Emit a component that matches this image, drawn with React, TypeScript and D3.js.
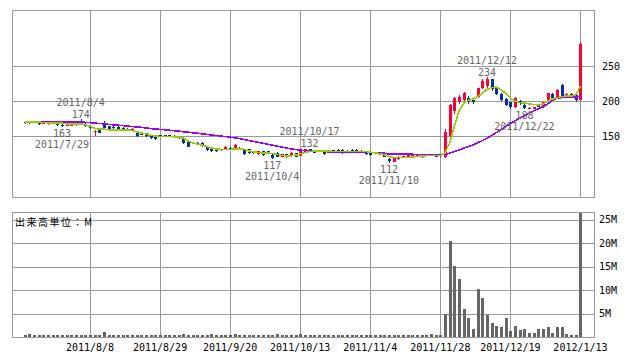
import { useEffect, useRef } from 'react';
import * as d3 from 'd3';

// 日足（2011/7/19 〜 2012/1/13、営業日インデックス）
const opens = [
  170, 168, 170, 170, 168, 167, 168, 169, 166, 164,
  165, 166, 172, 167, 163, 157, 160, 168, 164, 163,
  163, 162, 160, 158, 156, 155, 154, 150, 150, 151,
  151.5, 151, 150.5, 149, 145.5, 142, 140, 140, 139.8, 135,
  132.6, 131, 131, 130.3, 133.5, 132.6, 133, 131, 131, 128,
  124, 128, 128, 123, 126.5, 120.7, 124, 123, 125.5, 121.7,
  126.4, 131, 129.3, 129.5, 128, 127, 129.5, 130, 130, 126.5,
  130, 130, 126.5, 128, 125.5, 125.5, 124, 126.4, 117, 113.6,
  117, 119.8, 119.8, 120.7, 120.7, 123, 121.7, 124, 124, 123,
  120, 150, 186, 198, 202, 205, 201, 206, 219, 221,
  231, 219, 210, 203, 198, 192, 200, 194, 188.5, 188.5,
  194, 191, 202, 210, 204, 223, 205, 210, 209, 201,
];
const highs = [
  171, 171, 171, 171, 169, 171, 171, 170, 167, 168,
  169, 170, 174, 168, 164, 159, 161, 171, 165, 164,
  164, 163, 161, 161, 157, 156, 155, 151, 151, 152,
  152, 152, 151, 150, 146, 143, 141, 141, 141, 136,
  134, 132, 132, 136, 134, 139, 134, 132, 132, 129,
  129, 129, 129, 124, 127, 125, 125, 127, 126.5, 129,
  131.5, 132, 130, 130, 129, 128, 130, 131, 131, 130,
  131, 131, 130, 129, 126, 126, 126, 127, 119, 119,
  121, 122, 123.5, 124, 124.5, 124, 124.5, 125, 125, 124,
  160, 196, 206, 209, 213, 207, 203, 219, 231, 234,
  232, 221, 211, 204, 199, 206, 201, 196, 191, 192,
  195, 199, 212, 212, 217, 224, 212, 211, 210, 284,
];
const lows = [
  167, 167, 168, 166, 167, 166, 167, 165, 163, 164,
  165, 165, 169, 163, 160, 150, 154, 160, 159, 160,
  159, 159, 158, 157, 149, 151, 149, 146, 145, 148,
  148, 148, 147, 146, 139, 134, 138, 137, 135, 129,
  127, 127, 128, 130, 130, 132, 131, 123, 124, 125,
  123, 122, 124, 117, 120, 120, 119, 122, 120, 121,
  126, 127, 126, 128, 123, 125.5, 128.5, 126, 125, 126,
  127.5, 126, 126, 123.5, 122, 124, 123.5, 120, 112, 113,
  116.5, 119, 119, 120, 120, 119, 121, 121, 120, 120.5,
  119, 147, 182, 196, 200, 196, 196, 204, 217, 219,
  215, 208, 200, 193, 189, 190, 195, 188, 188.5, 188.5,
  191, 190, 201, 202, 203, 205, 204, 205, 199, 200,
];
const closes = [
  168, 170, 169, 167, 168, 170, 170, 166, 165, 167,
  168, 169, 170, 164, 162, 157, 155, 161, 160, 161,
  160, 160, 159, 160, 150, 152, 150, 147, 146, 149,
  149.5, 149, 148.5, 147, 140, 135, 139.5, 137.5, 136, 130.3,
  128, 128, 129.5, 135, 131, 137.4, 132, 124.5, 125.5, 125.5,
  128, 123, 125.5, 118.4, 120.7, 124.5, 120.7, 126.5, 120.7, 128,
  131, 128, 126.4, 129, 124, 126.5, 129, 126.5, 125.5, 129.3,
  128, 126.5, 129.3, 124, 123, 125, 125, 120.7, 114, 118.3,
  120.7, 121.7, 123, 123, 124, 120, 124, 121.7, 120.7, 121,
  156, 194, 204, 206, 211, 198, 198, 218, 229, 231,
  217, 210, 202, 195, 191, 204, 197, 190, 190, 191,
  192, 198, 211, 204, 216, 206, 210, 207, 201, 282,
];
// 出来高（単位：M）
const volumes = [
  0.35, 0.6, 0.35, 0.35, 0.35, 0.35, 0.35, 0.35, 0.35, 0.35,
  0.35, 0.35, 0.35, 0.35, 0.35, 0.35, 0.35, 1.0, 0.5, 0.35,
  0.35, 0.35, 0.35, 0.35, 0.35, 0.35, 0.35, 0.35, 0.35, 0.35,
  0.35, 0.35, 0.35, 0.35, 0.6, 0.35, 0.35, 0.35, 0.35, 0.35,
  0.6, 0.35, 0.35, 0.35, 0.35, 0.6, 0.35, 0.35, 0.35, 0.35,
  0.35, 0.35, 0.35, 0.35, 0.6, 0.35, 0.35, 0.35, 0.35, 0.6,
  0.35, 0.35, 0.35, 0.35, 0.35, 0.35, 0.35, 0.35, 0.35, 0.35,
  0.35, 0.35, 0.35, 0.35, 0.35, 0.35, 0.35, 0.35, 0.35, 0.35,
  0.35, 0.35, 0.35, 0.35, 0.35, 0.35, 0.35, 0.6, 0.35, 0.35,
  4.9, 20.5, 15.2, 12.4, 6.0, 4.1, 1.7, 10.3, 8.3, 4.7,
  3.0, 2.4, 2.1, 4.1, 1.2, 2.3, 1.5, 1.7, 0.8, 0.8,
  1.7, 1.7, 2.1, 0.8, 2.1, 2.1, 0.6, 0.4, 0.4, 26.3,
];
// 移動平均（短期・長期）
const maShort = [
  169.8, 169.8, 169.8, 169.8, 169.5, 169, 169, 169, 168.5, 167.5,
  167, 167, 167.5, 166, 164, 161, 160, 159.8, 159, 159,
  159, 159, 159, 158, 156, 154.5, 153, 151, 150, 149.5,
  149.5, 149.5, 149, 148.5, 147, 143, 140, 138.5, 137, 135,
  133, 131.5, 131, 131, 131, 131.5, 132, 131, 129, 127.5,
  126.5, 126, 126, 125, 124, 122.5, 121.8, 121.7, 122.5, 124.5,
  126.5, 127.9, 128.5, 129, 129, 128.5, 128, 128, 128, 128,
  128, 128, 128, 128, 127, 126, 125, 123.5, 121, 119.5,
  119.3, 119.3, 119.5, 120, 121, 121.5, 122, 122.5, 122.5, 122,
  126, 140, 164, 186, 197, 201, 203, 206.5, 211, 217,
  219, 220, 216, 211, 204, 200, 198, 197, 196, 195,
  194.5, 196, 200, 203, 204.5, 206.5, 207, 207, 209, 221.5,
];
const maLong = [
  171, 171, 171, 170.8, 170.7, 170.6, 170.5, 170.4, 170.2, 170,
  170, 170, 170, 169.6, 169.2, 168.5, 168, 167.3, 166.7, 166,
  165.5, 165, 164.3, 163.7, 163, 162.5, 161.5, 160.8, 160, 159.5,
  159, 158.3, 157.7, 157, 156.2, 155.5, 154.7, 154, 153.2, 152.3,
  151.5, 150.8, 150, 149.3, 148.5, 147.5, 146.3, 145, 143.8, 142.5,
  141, 139.7, 138.3, 137, 135.7, 134.3, 133, 131.7, 130.7, 130,
  129.3, 128.7, 128.3, 128, 127.8, 127.6, 127.5, 127.5, 127.4, 127.3,
  127.2, 127.1, 127, 126.9, 126.8, 126.6, 126.3, 125.5, 124.5, 124.2,
  124, 124, 124, 124, 123.8, 123.7, 123.6, 123.5, 123.3, 123.2,
  124, 125.5, 127.8, 130.2, 132.6, 135, 137.4, 140.5, 143.5, 147,
  151, 155, 159, 163.5, 168, 172, 175.5, 179, 182.6, 186,
  189, 192, 196, 201, 204, 205, 205.2, 205.3, 205.5, 207,
];

const tickIndex = [14, 29, 44, 59, 74, 89, 104, 119];
const tickLabels = ['2011/8/8', '2011/8/29', '2011/9/20', '2011/10/13', '2011/11/4', '2011/11/28', '2011/12/19', '2012/1/13'];
const priceTicks = [150, 200, 250];
const volumeTicks = [5, 10, 15, 20, 25];

// 高値・安値の注記
const noteIndex = [8, 12, 53, 61, 78, 99, 107];
const noteDates = ['2011/7/29', '2011/8/4', '2011/10/4', '2011/10/17', '2011/11/10', '2011/12/12', '2011/12/22'];
const noteValues = [163, 174, 117, 132, 112, 234, 188];
const noteKinds = ['low', 'high', 'low', 'high', 'low', 'high', 'low'];

const UP = '#ff0033';
const DOWN = '#003399';
const GRID = '#999999';
const FONT = '"DejaVu Sans Mono", monospace';

export default function App() {
  const svgRef = useRef<SVGSVGElement>(null);

  useEffect(() => {
    if (!svgRef.current) return;
    const svg = d3.select(svgRef.current);
    svg.selectAll('*').remove();

    const left = 12;
    const right = 594;
    const main = { top: 10, bottom: 197 };
    const vol = { top: 212, bottom: 337 };

    const x = d3.scaleLinear().domain([-2.7, 121.9]).range([left, right]);
    const y = d3.scaleLinear().domain([63, 330]).range([main.bottom, main.top]);
    const yv = d3.scaleLinear().domain([0, 26.6]).range([vol.bottom, vol.top]);
    const px = (v: number) => Math.round(v) + 0.5;

    const g = svg.append('g').attr('shape-rendering', 'crispEdges');

    // grids and frames
    [main, vol].forEach(p => {
      tickIndex.forEach(t => {
        g.append('line')
          .attr('x1', px(x(t))).attr('x2', px(x(t)))
          .attr('y1', p.top).attr('y2', p.bottom)
          .attr('stroke', GRID);
      });
      g.append('rect')
        .attr('x', px(left)).attr('y', px(p.top))
        .attr('width', right - left).attr('height', p.bottom - p.top)
        .attr('fill', 'none').attr('stroke', GRID);
    });
    priceTicks.forEach(v => {
      g.append('line')
        .attr('x1', left).attr('x2', right)
        .attr('y1', px(y(v))).attr('y2', px(y(v)))
        .attr('stroke', GRID);
      svg.append('text')
        .attr('x', 602).attr('y', y(v)).attr('dy', '0.35em')
        .style('font', `10px ${FONT}`)
        .text(v);
    });
    volumeTicks.forEach(v => {
      g.append('line')
        .attr('x1', left).attr('x2', right)
        .attr('y1', px(yv(v))).attr('y2', px(yv(v)))
        .attr('stroke', GRID);
      svg.append('text')
        .attr('x', 599).attr('y', yv(v)).attr('dy', '0.35em')
        .style('font', `10px ${FONT}`)
        .text(`${v}M`);
    });

    // date labels
    tickIndex.forEach((t, k) => {
      svg.append('text')
        .attr('x', x(t)).attr('y', 351)
        .attr('text-anchor', 'middle')
        .style('font', `10px ${FONT}`)
        .text(tickLabels[k]);
    });

    svg.append('text')
      .attr('x', 15).attr('y', 226)
      .style('font', '10px "Noto Sans CJK JP", sans-serif')
      .style('letter-spacing', '1.5px')
      .text('出来高単位：M');

    // notes
    noteIndex.forEach((i, k) => {
      const isHigh = noteKinds[k] === 'high';
      const base = isHigh ? y(highs[i]) : y(lows[i]);
      const vy = isHigh ? base - 1.5 : base + 10;
      const dy = isHigh ? base - 13.5 : base + 21;
      svg.append('text')
        .attr('x', x(i)).attr('y', vy).attr('text-anchor', 'middle')
        .attr('fill', '#666').style('font', `10px ${FONT}`)
        .text(noteValues[k]);
      svg.append('text')
        .attr('x', x(i)).attr('y', dy).attr('text-anchor', 'middle')
        .attr('fill', '#666').style('font', `10px ${FONT}`)
        .text(noteDates[k]);
    });

    // volume bars
    volumes.forEach((v, i) => {
      const top = Math.round(yv(v));
      g.append('rect')
        .attr('x', Math.round(x(i)) - 1).attr('y', top)
        .attr('width', 3).attr('height', vol.bottom - top)
        .attr('fill', '#666666');
    });

    // candles
    opens.forEach((o, i) => {
      const c = closes[i];
      const color = c >= o ? UP : DOWN;
      g.append('line')
        .attr('x1', px(x(i))).attr('x2', px(x(i)))
        .attr('y1', Math.round(y(highs[i]))).attr('y2', Math.round(y(lows[i])))
        .attr('stroke', color);
      const top = Math.round(y(Math.max(o, c)));
      const bottom = Math.round(y(Math.min(o, c)));
      g.append('rect')
        .attr('x', Math.round(x(i)) - 1).attr('y', top)
        .attr('width', 3).attr('height', Math.max(1, bottom - top))
        .attr('fill', color);
    });

    // moving averages
    const line = d3.line<number>()
      .x((_, i) => x(i))
      .y(d => y(d));
    g.append('path')
      .datum(maLong)
      .attr('fill', 'none').attr('stroke', '#9900ff').attr('stroke-width', 1.6)
      .attr('d', line);
    g.append('path')
      .datum(maShort)
      .attr('fill', 'none').attr('stroke', '#99cc00').attr('stroke-width', 1.6)
      .attr('d', line);
  }, []);

  return (
    <div style={{ position: 'absolute', left: 0, top: 0 }}>
      <svg ref={svgRef} width={638} height={362} style={{ display: 'block', background: '#fff' }} />
    </div>
  );
}
